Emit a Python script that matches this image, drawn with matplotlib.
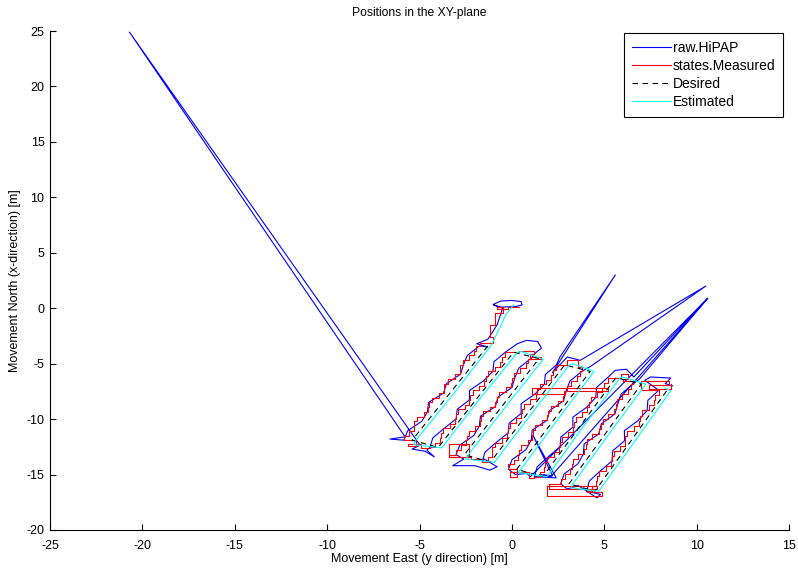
import matplotlib
matplotlib.use("Agg")
import matplotlib.pyplot as plt

plt.rcParams['font.family'] = ['Liberation Sans', 'DejaVu Sans']
plt.rcParams['axes.unicode_minus'] = False

# ---------------- data (metres) ----------------
# Desired lawnmower path (East, North)
desired_e = [-1.3, -5.4, -3.99, 0.09, 1.47, -2.57, -1.16, 2.86, 4.24, 0.26, 1.67, 5.63, 7.01, 3.09, 4.5, 8.4]
desired_n = [-3.4, -11.9, -12.56, -3.97, -4.54, -13.21, -13.87, -5.11, -5.69, -14.53, -15.19, -6.26, -6.83, -15.84, -16.5, -7.4]

# Estimated path
est_e = [0.1, -0.3, -1.1, -3.1, -5.2, -5.3, -4.8, -3.8, -1.75, 0.3, 0.5, 1.7, -0.35, -2.35, -2.5, -0.95,
         1.07, 3.1, 3.3, 4.45, 2.45, 0.5, 0.35, 1.9, 3.85, 5.85, 6.0, 7.25, 5.25, 3.3, 3.2, 4.7,
         6.65, 8.6, 8.3]
est_n = [0.3, -0.5, -3.3, -7.6, -11.9, -12.3, -12.4, -12.6, -8.2, -4.0, -3.9, -4.6, -8.9, -13.2, -13.6, -13.9,
         -9.5, -5.15, -5.0, -5.7, -10.1, -14.5, -14.8, -15.2, -10.7, -6.3, -6.2, -6.85, -11.35, -15.85, -16.2, -16.5,
         -12.0, -7.45, -7.2]

# Measured states (stair-stepped)
meas_e = [0.4, -0.2, -0.8, -0.5, -0.9, -1.2, -1.0,
          -1.75, -1.95, -2.04, -2.30, -2.67, -2.80, -2.83, -3.10, -3.47, -3.65, -3.70, -3.95, -4.35, -4.50,
          -4.54, -4.78, -5.13, -5.28, -5.32, -5.55, -5.85,
          -5.2, -5.6, -4.9,
          -4.44, -4.15, -3.91, -3.85, -3.72, -3.35, -3.07, -3.00, -2.89, -2.55, -2.30, -2.25, -2.13, -1.78,
          -1.50, -1.42, -1.28, -0.92, -0.65, -0.52, -0.36,
          0.4, 1.2, 1.0, 1.6,
          1.02, 0.85, 0.74, 0.45, 0.11, 0.00, -0.04, -0.33, -0.68, -0.82, -0.90, -1.18, -1.54, -1.66,
          -1.73, -1.98, -2.31, -2.42, -2.50, -2.73, -3.02,
          -3.4, -2.3, -3.4, -2.2,
          -1.61, -1.30, -1.09, -1.05, -0.91, -0.55, -0.25, -0.20, -0.08, 0.25, 0.50, 0.55, 0.66, 1.00,
          1.28, 1.35, 1.51, 1.85, 2.13, 2.25, 2.41,
          3.0, 3.6,
          3.79, 3.70, 3.51, 3.20, 2.99, 5.2, 1.1, 2.89, 2.80, 2.75, 2.50, 2.12, 1.95, 1.90, 1.62, 1.26,
          1.12, 1.08, 0.85, 0.51, 0.38, 0.33, 0.10, -0.19,
          0.3, -0.1, 0.9,
          1.22, 1.50, 1.74, 1.78, 1.91, 2.28, 2.56, 2.60, 2.72, 3.05, 3.30, 3.35, 3.46, 3.80,
          4.07, 4.15, 4.29, 4.62, 4.90, 5.00, 5.18,
          5.9, 6.3, 6.0,
          6.56, 6.45, 6.29, 5.95, 5.68, 5.65, 5.53, 5.20, 4.91, 4.85, 4.70, 4.35, 4.07, 4.02,
          3.90, 3.58, 3.32, 3.28, 3.15, 2.85, 2.64,
          2.0, 4.6, 1.9, 4.9,
          4.05, 4.35, 4.56, 4.60, 4.73, 5.10, 5.37, 5.40, 5.53, 5.85, 6.10, 6.15, 6.25, 6.60,
          6.86, 6.92, 7.07, 7.42, 7.68, 7.75, 7.95,
          7.0, 8.5, 7.4, 8.6]
meas_n = [0.1, -0.1, 0.1, -0.4, -1.5, -2.6, -3.1,
          -3.4, -3.83, -4.25, -4.68, -5.1, -5.53, -5.95, -6.38, -6.8, -7.23, -7.65, -8.08, -8.5, -8.93,
          -9.35, -9.78, -10.2, -10.63, -11.05, -11.48, -11.9,
          -12.4, -12.2, -12.6,
          -12.56, -12.13, -11.70, -11.27, -10.84, -10.41, -9.98, -9.55, -9.12, -8.70, -8.27, -7.84, -7.41, -6.98,
          -6.55, -6.12, -5.69, -5.26, -4.83, -4.40, -3.97,
          -3.9, -4.1, -4.6, -4.4,
          -4.54, -4.98, -5.41, -5.84, -6.27, -6.71, -7.14, -7.58, -8.01, -8.45, -8.88, -9.31, -9.74, -10.18,
          -10.61, -11.05, -11.48, -11.91, -12.34, -12.78, -13.21,
          -13.4, -12.2, -13.4, -13.6,
          -13.87, -13.43, -12.99, -12.56, -12.12, -11.68, -11.24, -10.81, -10.37, -9.93, -9.49, -9.05, -8.61, -8.18,
          -7.74, -7.30, -6.86, -6.43, -5.99, -5.55, -5.11,
          -4.7, -5.3,
          -5.69, -6.13, -6.57, -7.0, -7.46, -7.2, -7.7, -7.5, -7.9, -8.34, -8.8, -9.23, -9.67, -10.11, -10.55, -10.99,
          -11.43, -11.88, -12.32, -12.76, -13.2, -13.65, -14.09, -14.53,
          -15.2, -14.8, -15.3,
          -15.19, -14.75, -14.30, -13.85, -13.40, -12.96, -12.51, -12.07, -11.62, -11.18, -10.73, -10.28, -9.83, -9.39,
          -8.94, -8.50, -8.05, -7.60, -7.15, -6.71, -6.26,
          -5.9, -6.4, -6.6,
          -6.83, -7.28, -7.73, -8.18, -8.63, -9.08, -9.53, -9.98, -10.43, -10.89, -11.34, -11.79, -12.24, -12.69,
          -13.14, -13.59, -14.04, -14.49, -14.94, -15.39, -15.84,
          -16.3, -16.0, -16.9, -16.6,
          -16.5, -16.05, -15.59, -15.14, -14.68, -14.23, -13.77, -13.32, -12.86, -12.41, -11.95, -11.50, -11.04, -10.59,
          -10.13, -9.68, -9.22, -8.77, -8.31, -7.86, -7.4,
          -6.6, -6.9, -7.3, -6.8]

# Raw HiPAP positions (with outliers)
hipap_e = [-1.0, -0.6, 0.0, 0.5, 0.55, 0.2, -0.6, -1.0, -0.5, -0.8, -1.3, -1.9, -1.3,
           -1.75, -2.41, -2.62, -2.78, -3.54, -3.70, -4.51, -4.57, -4.88, -5.64, -5.85,
           -6.6, -5.78, -20.7, -4.97, -5.4, -4.7, -4.2, -4.6,
           -4.44, -4.28, -3.67, -3.02, -2.96, -2.30, -2.29, -1.53, -1.03, -0.97, -0.36,
           0.3, 0.8, 1.4, 1.6, 1.3,
           1.02, 0.37, 0.16, 0.01, -0.75, -0.90, -1.70, -1.76, -2.06, -2.82, -3.02,
           -2.6, -3.2, -2.0, -1.2, -0.8, -1.5,
           -1.61, -1.46, -0.86, -0.20, -0.15, 0.50, 0.50, 1.25, 1.76, 1.81, 2.41,
           2.6, 5.6, 2.2, 3.0, 3.7, 10.5, 4.3,
           3.79, 3.14, 2.94, 2.80, 2.05, 1.90, 1.10, 1.05, 0.76, 0.01, -0.19,
           0.2, 0.8, 1.0, 10.6, 2.1, 1.5, 2.2, 1.15, 2.4,
           1.22, 1.37, 1.96, 2.61, 2.65, 3.30, 3.30, 4.04, 4.54, 4.58, 5.18,
           5.6, 6.2, 6.6, 10.6, 6.9,
           6.56, 5.92, 5.73, 5.58, 4.84, 4.70, 3.91, 3.87, 3.57, 2.83, 2.64,
           3.0, 3.6, 4.6, 4.8,
           4.05, 4.19, 4.78, 5.42, 5.46, 6.10, 6.09, 6.83, 7.32, 7.36, 7.95,
           7.2, 7.5, 8.6, 8.3, 8.7]
hipap_n = [0.35, 0.65, 0.7, 0.6, 0.3, 0.15, 0.1, 0.3, 0.0, -1.5, -2.8, -3.2, -3.5,
           -3.4, -4.25, -5.1, -5.95, -6.8, -7.65, -8.5, -9.35, -10.2, -11.05, -11.9,
           -11.8, -11.6, 24.9, -12.35, -12.7, -12.9, -13.4, -12.8,
           -12.56, -11.70, -10.84, -9.98, -9.12, -8.27, -7.41, -6.55, -5.69, -4.83, -3.97,
           -3.2, -2.9, -3.0, -3.6, -4.0,
           -4.54, -5.41, -6.27, -7.14, -8.01, -8.88, -9.74, -10.61, -11.48, -12.34, -13.21,
           -13.6, -14.2, -14.2, -14.6, -14.3, -13.6,
           -13.87, -12.99, -12.12, -11.24, -10.37, -9.49, -8.61, -7.74, -6.86, -5.99, -5.11,
           -4.4, 3.0, -5.8, -4.4, -4.7, 2.0, -5.2,
           -5.69, -6.57, -7.46, -8.34, -9.23, -10.11, -10.99, -11.88, -12.76, -13.65, -14.53,
           -15.0, -14.9, -15.2, 0.9, -15.2, -15.0, -15.1, -11.5, -15.3,
           -15.19, -14.30, -13.40, -12.51, -11.62, -10.73, -9.83, -8.94, -8.05, -7.15, -6.26,
           -5.6, -5.5, -6.2, 0.9, -6.4,
           -6.83, -7.73, -8.63, -9.53, -10.43, -11.34, -12.24, -13.14, -14.04, -14.94, -15.84,
           -16.3, -16.0, -17.1, -16.8,
           -16.5, -15.59, -14.68, -13.77, -12.86, -11.95, -11.04, -10.13, -9.22, -8.31, -7.4,
           -6.5, -6.2, -6.3, -6.8, -7.0]

labels = ['raw.HiPAP', 'states.Measured', 'Desired', 'Estimated']
xticks = [-25, -20, -15, -10, -5, 0, 5, 10, 15]
yticks = [-20, -15, -10, -5, 0, 5, 10, 15, 20, 25]

# ---------------- figure ----------------
W, H = 798, 572
fig = plt.figure(figsize=(W / 100, H / 100), dpi=100)
ax = fig.add_axes([50 / W, 1 - 530 / H, (789 - 50) / W, (530 - 31) / H])

lw = 0.8
ax.plot(hipap_e, hipap_n, color=(0, 0, 1), lw=lw, label=labels[0])
ax.plot(meas_e, meas_n, color=(1, 0, 0), lw=lw, drawstyle='steps-post', label=labels[1])
ax.plot(desired_e, desired_n, color='black', lw=lw, ls=(0, (5, 4)), label=labels[2])
ax.plot(est_e, est_n, color=(0, 1, 1), lw=lw, label=labels[3])

ax.set_xlim(-25, 15)
ax.set_ylim(-20, 25)
ax.set_xticks(xticks)
ax.set_yticks(yticks)
ax.tick_params(direction='in', length=4, width=0.8, labelsize=9)
ax.tick_params(axis='x', pad=7)
ax.tick_params(axis='y', pad=4)
for s in ['top', 'right']:
    ax.spines[s].set_visible(False)
for s in ['left', 'bottom']:
    ax.spines[s].set_linewidth(0.8)

ax.set_title('Positions in the XY-plane', fontsize=8.7, pad=11)
ax.set_xlabel('Movement East (y direction) [m]', fontsize=9, labelpad=1)
ax.set_ylabel('Movement North (x-direction) [m]', fontsize=9, labelpad=4)

leg = ax.legend(loc='upper right', bbox_to_anchor=(783 / W, 1 - 33 / H),
                bbox_transform=fig.transFigure, borderaxespad=0, fontsize=10,
                fancybox=False, framealpha=1, edgecolor='black', handlelength=2.8,
                handletextpad=0.15, labelspacing=0.3, borderpad=0.55)
leg.get_frame().set_linewidth(0.8)

fig.savefig('out.png', dpi=100)
